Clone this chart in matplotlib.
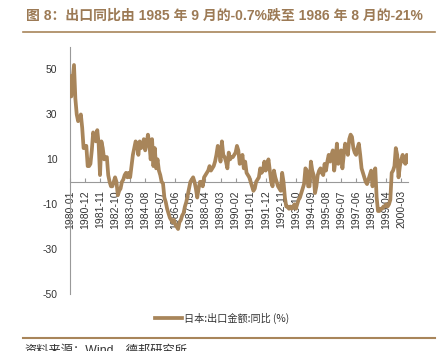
import numpy as np
import matplotlib.pyplot as plt
from matplotlib.lines import Line2D

plt.rcParams['font.family'] = ['Liberation Sans', 'Noto Sans CJK SC', 'DejaVu Sans']

# 日本出口金额同比 (%), 月度 1980-01 ~ 2000-08
start_year, start_month = 1980, 1
export_yoy = [
    47, 38, 45, 52, 37, 30, 27, 28, 30, 24, 15, 16,
    16, 7, 7, 8, 14, 22, 20, 18, 23, 17, 3, 18,
    15, 10, 11, 11, 3, 0, -2, -2, 0, 2, 0, -6,
    -4, -3, 0, 1, 3, 4, 2, 4, 2, 7, 12, 15,
    18, 17, 12, 18, 15, 16, 19, 14, 17, 21, 17, 10,
    19, 7, 15, 6, 10, 5, 3, 0, -0.7, -7, -9, -12,
    -14, -16, -17, -18, -17, -19, -20, -21, -18, -17, -15, -14,
    -11, -9, -6, -3, 0, 1, 2, 0, -3, -7, -3, 0,
    0, -2, 2, 3, 4, 5, 7, 5, 6, 7, 9, 12,
    16, 14, 9, 18, 12, 11, 9, 6, 13, 10, 11, 11,
    12, 13, 16, 14, 8, 9, 12, 6, 9, 4, 3, 2,
    0, -2, -4, -3, 0, 1, 2, 6, 4, 5, 9, 5,
    7, 10, 5, 0, -2, 5, 2, 0, -2, -3, -4, 4,
    0, -7, -11, -11, -12, -11, -12, -11, -10, -12, -10, -8,
    -7, -5, -3, -1, 6, 5, -2, -2, 9, 5, 3, -5,
    -2, 3, 5, 6, 4, 3, 8, 5, 9, 12, 9, 12,
    14, 5, 10, 17, 8, 10, 14, 6, 12, 17, 16, 12,
    19, 21, 20, 15, 13, 12, 15, 17, 12, 6, 4, 2,
    0, -1, 1, 3, 5, -2, 3, 6, -7, -13, -13, -12,
    -12, -11, -11, -10, -11, -10, -8, 4, 5, 7, 15, 12,
    2, 7, 10, 12, 9, 8, 12, 9,
]
y_ticks = [50, 30, 10, -10, -30, -50]
tick_step = 11

n = len(export_yoy)
labels = []
for k in range(n):
    m = start_month - 1 + k
    labels.append(f'{start_year + m // 12}-{m % 12 + 1:02d}')
x = np.arange(n)

brown = '#a8855a'
fig = plt.figure(figsize=(4.48, 3.51), dpi=100)
ax = fig.add_axes([0.156, 0.162, 0.755, 0.704])

# spine position first (it resets the ticks)
for s in ['top', 'right']:
    ax.spines[s].set_visible(False)
ax.spines['bottom'].set_position(('data', 0))
ax.spines['bottom'].set_color('#999999')
ax.spines['left'].set_color('#999999')

ax.plot(x, export_yoy, color=brown, lw=2.7, solid_joinstyle='round', zorder=3)

ax.set_xlim(0, n - 1)
ax.set_ylim(-50, 60)
ax.set_yticks(y_ticks)
ax.set_yticklabels([str(v) for v in y_ticks], fontsize=7.5, color='#333333')
ax.tick_params(axis='y', length=0, pad=9)
ax.set_xticks(x[::tick_step])
ax.set_xticklabels(labels[::tick_step], rotation=90, fontsize=7.5, color='#333333')
ax.tick_params(axis='x', direction='in', length=3, pad=6, color='#999999')

fig.text(0.058, 0.954, '图 8：出口同比由 1985 年 9 月的-0.7%跌至 1986 年 8 月的-21%',
         fontsize=10, fontweight='bold', color='#9c7a55', va='center', ha='left')
fig.add_artist(Line2D([0.051, 0.971], [1 - 32 / 351] * 2, color='#a8855a', lw=1.2))
fig.add_artist(Line2D([0.051, 0.971], [1 - 338 / 351] * 2, color='#a8855a', lw=1.5))
fig.add_artist(Line2D([155 / 448, 182 / 448], [1 - 318 / 351] * 2, color=brown, lw=2.7))
fig.text(184 / 448, 1 - 318 / 351, '日本:出口金额:同比 (%)', fontsize=7.3, color='#333333',
         va='center', ha='left', family=['Noto Sans CJK SC', 'DejaVu Sans'])
fig.text(0.055, 1 - 345 / 351, '资料来源：Wind，德邦研究所', fontsize=8.8, color='#333333',
         va='top', ha='left')

fig.savefig('out.png', dpi=100)
